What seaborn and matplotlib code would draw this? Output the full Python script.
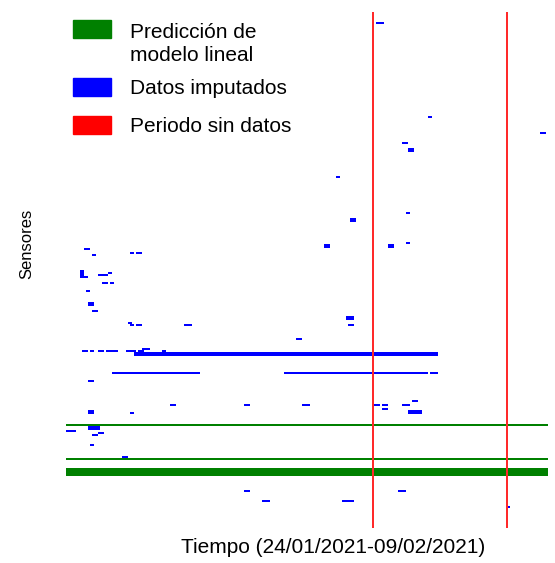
import numpy as np
import pandas as pd
import matplotlib
matplotlib.use('Agg')
import matplotlib.pyplot as plt
import seaborn as sns
from matplotlib.colors import ListedColormap
from matplotlib.patches import Rectangle

n_sensores = 258
n_tiempo = 241

# datos imputados: (fila inicio, fila fin, columna inicio, columna fin)
imputados = [
    (5, 6, 155, 159), (52, 53, 181, 183), (60, 61, 237, 240), (65, 66, 168, 171),
    (68, 70, 171, 174), (82, 83, 135, 137), (103, 105, 142, 145), (100, 101, 170, 172),
    (116, 118, 129, 132), (116, 118, 161, 164), (115, 116, 170, 172),
    (118, 119, 9, 12), (121, 122, 13, 15), (120, 121, 32, 34), (120, 121, 35, 38),
    (129, 133, 7, 9), (132, 133, 7, 11), (131, 132, 16, 21), (130, 131, 21, 23),
    (135, 136, 18, 21), (135, 136, 22, 24), (139, 140, 10, 12), (145, 147, 11, 14),
    (149, 150, 13, 16), (152, 154, 140, 144), (156, 157, 141, 144),
    (155, 156, 31, 33), (156, 157, 32, 34), (156, 157, 35, 38), (156, 157, 59, 63),
    (163, 164, 115, 118),
    (169, 170, 8, 11), (169, 170, 12, 14), (169, 170, 16, 19), (169, 170, 20, 26),
    (169, 170, 30, 35), (168, 169, 38, 42), (169, 170, 36, 39), (169, 170, 48, 50),
    (170, 172, 34, 186),
    (180, 181, 23, 67), (180, 181, 109, 181), (180, 181, 182, 186),
    (184, 185, 11, 14),
    (196, 197, 52, 55), (196, 197, 89, 92), (196, 197, 118, 122), (196, 197, 154, 157),
    (196, 197, 158, 161), (196, 197, 168, 172), (194, 195, 173, 176), (198, 199, 158, 161),
    (199, 201, 171, 178), (199, 201, 11, 14), (200, 201, 32, 34),
    (209, 210, 0, 5), (207, 209, 11, 17), (210, 211, 16, 19), (211, 212, 13, 16),
    (216, 217, 12, 14), (222, 223, 28, 31),
    (239, 240, 89, 92), (239, 240, 166, 170), (244, 245, 98, 102), (244, 245, 138, 144),
    (247, 248, 221, 222),
]

# prediccion del modelo lineal: filas de sensores completas
prediccion_filas = [(206, 207), (223, 224), (228, 232)]

# periodos sin datos: columnas de tiempo
sin_datos_cols = [153, 220]

leyenda_textos = ['Predicción de\nmodelo lineal', 'Datos imputados', 'Periodo sin datos']
leyenda_colores = ['green', 'blue', 'red']

m = np.zeros((n_sensores, n_tiempo))
for r0, r1, c0, c1 in imputados:
    m[r0:r1, c0:c1] = 1
for r0, r1 in prediccion_filas:
    m[r0:r1, :] = 2
for c in sin_datos_cols:
    m[:, c] = 3
df = pd.DataFrame(m)

sns.set_style('white')
plt.rcParams['font.family'] = ['Liberation Sans', 'DejaVu Sans']
plt.rcParams['text.color'] = 'black'
plt.rcParams['axes.labelcolor'] = 'black'

fig = plt.figure(figsize=(5.55, 5.63), dpi=100)
ax = fig.add_axes([66 / 555, 1 - 528 / 563, 482 / 555, 516 / 563])
sns.heatmap(df, cmap=ListedColormap(['white', 'blue', 'green', '#ff2a2a']), vmin=0, vmax=3,
            cbar=False, xticklabels=False, yticklabels=False, ax=ax)

ax.set_xlabel('Tiempo (24/01/2021-09/02/2021)', fontsize=15)
ax.xaxis.set_label_coords(0.554, -0.02)
ax.set_ylabel('Sensores', fontsize=12)
ax.yaxis.set_label_coords(-0.066, 0.55)

# leyenda a mano (cuadro a la altura de la primera linea)
caja_top = [20, 78, 116]
base_txt = [61, 94, 132]   # linea base de la ultima linea de cada texto
for txt, col, yt, yb in zip(leyenda_textos, leyenda_colores, caja_top, base_txt):
    fig.add_artist(Rectangle((73 / 555, 1 - (yt + 18) / 563), 38 / 555, 18 / 563,
                             transform=fig.transFigure, color=col, zorder=5))
    fig.text(130 / 555, 1 - yb / 563, txt, fontsize=15, va='baseline', ha='left',
             linespacing=1.3, zorder=5)

fig.savefig('out.png', dpi=100)
